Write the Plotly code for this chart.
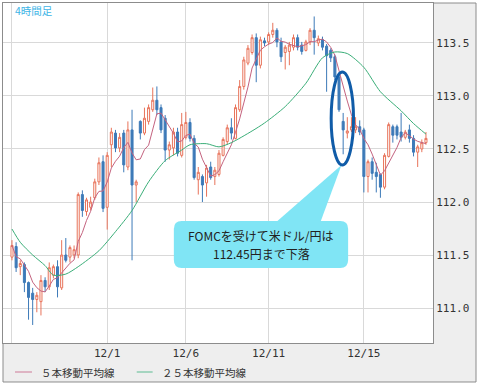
import plotly.graph_objects as go
import pandas as pd

# ---- data (USD/JPY 4-hour bars) ----
bar_idx = list(range(101))
opens = [111.48, 111.58, 111.39, 111.41, 111.24, 111.14, 111.08, 111.06, 111.26, 111.20,
         111.31, 111.39, 111.19, 111.50, 111.48, 111.50, 111.50, 112.07, 111.91, 111.95,
         112.04, 112.19, 112.38, 111.95, 112.54, 112.65, 112.51, 112.65, 112.33, 112.68,
         112.16, 112.76, 112.65, 112.76, 112.87, 112.96, 112.89, 112.79, 112.49, 112.51,
         112.66, 112.44, 112.61, 112.75, 112.60, 112.21, 112.24, 112.18, 112.33, 112.24,
         112.26, 112.44, 112.57, 112.70, 112.60, 112.87, 113.09, 113.31, 113.41, 113.55,
         113.29, 113.52, 113.51, 113.58, 113.62, 113.51, 113.41, 113.42, 113.46, 113.55,
         113.48, 113.43, 113.51, 113.62, 113.50, 113.53, 113.47, 113.43, 113.37, 113.18,
         112.76, 112.65, 112.68, 112.68, 112.71, 112.68, 112.24, 112.38, 112.28, 112.26,
         112.14, 112.43, 112.71, 112.71, 112.66, 112.61, 112.68, 112.60, 112.47, 112.50,
         112.56]
highs = [111.64, 111.62, 111.45, 111.43, 111.25, 111.19, 111.15, 111.31, 111.29, 111.43,
         111.41, 111.45, 111.64, 111.66, 111.59, 111.59, 112.09, 112.11, 112.04, 112.05,
         112.22, 112.42, 112.44, 112.47, 112.70, 112.68, 112.65, 112.68, 112.76, 112.87,
         112.21, 112.77, 112.89, 112.92, 113.08, 113.09, 112.92, 112.82, 112.57, 112.70,
         112.70, 112.84, 112.85, 112.79, 112.63, 112.33, 112.26, 112.35, 112.38, 112.33,
         112.49, 112.61, 112.73, 112.79, 112.92, 113.15, 113.37, 113.48, 113.58, 113.59,
         113.56, 113.55, 113.60, 113.69, 113.64, 113.55, 113.48, 113.51, 113.58, 113.58,
         113.51, 113.53, 113.64, 113.75, 113.57, 113.56, 113.49, 113.45, 113.39, 113.20,
         112.84, 112.80, 112.80, 112.80, 112.77, 112.70, 112.40, 112.42, 112.37, 112.27,
         112.46, 112.75, 112.73, 112.73, 112.84, 112.68, 112.73, 112.63, 112.54, 112.59,
         112.66]
lows = [111.45, 111.34, 111.31, 111.15, 110.89, 110.84, 110.96, 110.93, 111.15, 111.17,
        111.28, 111.10, 111.17, 111.43, 111.43, 111.47, 111.47, 111.86, 111.87, 111.92,
        112.02, 112.16, 111.905, 111.74, 112.33, 112.47, 112.47, 112.28, 112.30, 111.45,
        112.00, 112.59, 112.63, 112.73, 112.85, 112.82, 112.65, 112.38, 112.40, 112.44,
        112.43, 112.42, 112.59, 112.57, 112.21, 112.07, 112.00, 112.05, 112.21, 112.16,
        112.24, 112.43, 112.54, 112.59, 112.59, 112.85, 113.06, 113.29, 113.39, 113.13,
        113.26, 113.47, 113.48, 113.55, 113.46, 113.32, 113.25, 113.29, 113.43, 113.43,
        113.39, 113.42, 113.48, 113.39, 113.47, 113.43, 113.04, 113.32, 113.15, 112.85,
        112.45, 112.60, 112.66, 112.65, 112.63, 112.09, 112.09, 112.21, 112.09, 112.04,
        112.12, 112.42, 112.56, 112.59, 112.57, 112.59, 112.56, 112.43, 112.33, 112.47,
        112.54]
closes = [111.59, 111.38, 111.42, 111.24, 111.10, 111.08, 111.12, 111.26, 111.20, 111.38,
          111.39, 111.20, 111.50, 111.45, 111.57, 111.55, 112.07, 111.92, 112.02, 112.00,
          112.19, 112.37, 111.94, 112.44, 112.66, 112.51, 112.61, 112.35, 112.68, 112.16,
          112.19, 112.65, 112.79, 112.89, 112.96, 112.87, 112.68, 112.49, 112.54, 112.66,
          112.46, 112.73, 112.75, 112.60, 112.23, 112.28, 112.16, 112.32, 112.23, 112.30,
          112.46, 112.59, 112.70, 112.65, 112.89, 113.09, 113.34, 113.45, 113.55, 113.29,
          113.53, 113.50, 113.58, 113.62, 113.51, 113.37, 113.46, 113.48, 113.55, 113.46,
          113.42, 113.51, 113.62, 113.55, 113.54, 113.46, 113.38, 113.36, 113.18, 112.87,
          112.68, 112.67, 112.71, 112.71, 112.66, 112.24, 112.38, 112.27, 112.24, 112.14,
          112.44, 112.73, 112.63, 112.63, 112.61, 112.66, 112.60, 112.47, 112.52, 112.56,
          112.60]

# 25-bar moving average at these bars
ma25_idx = [0, 2, 5, 8, 10, 13, 16, 21, 25, 29, 33, 37, 41, 43, 47, 50, 53, 58, 61, 66,
            71, 75, 78, 81, 85, 89, 94, 97, 100]
ma25_val = [111.745, 111.62, 111.50, 111.40, 111.31, 111.32, 111.39, 111.54, 111.72, 111.92,
            112.19, 112.39, 112.49, 112.54, 112.55, 112.52, 112.56, 112.67, 112.745, 112.90,
            113.12, 113.36, 113.415, 113.40, 113.27, 113.04, 112.86, 112.74, 112.64]

# 5-bar moving average of the closes
ma5 = pd.Series(closes).rolling(5, min_periods=1).mean().tolist()

x_tick_vals = [0, 23, 42, 62, 85]
x_tick_text = ["", "12/1", "12/6", "12/11", "12/15"]
y_tick_vals = [111.0, 111.5, 112.0, 112.5, 113.0, 113.5]
y_tick_text = ["111.0", "111.5", "112.0", "112.5", "113.0", "113.5"]

legend_names = ["５本移動平均線", "２５本移動平均線"]
callout_lines = ["FOMCを受けて米ドル/円は", "112.45円まで下落"]
ma5_color = "#c4637f"
ma25_color = "#3aae78"

fig = go.Figure()
fig.add_trace(go.Candlestick(
    x=bar_idx, open=opens, high=highs, low=lows, close=closes,
    increasing=dict(line=dict(color="#e8735a", width=1), fillcolor="#ffffff"),
    decreasing=dict(line=dict(color="#3d7ab8", width=1), fillcolor="#3d7ab8"),
    whiskerwidth=0, showlegend=False, hoverinfo="skip"))
fig.add_trace(go.Scatter(x=bar_idx, y=ma5, mode="lines",
                         line=dict(color=ma5_color, width=1), showlegend=False))
fig.add_trace(go.Scatter(x=ma25_idx, y=ma25_val, mode="lines",
                         line=dict(color=ma25_color, width=1, shape="spline", smoothing=0.7),
                         showlegend=False))

tick_font = dict(family="DejaVu Sans Mono", size=11, color="#333333")
fig.update_layout(
    width=477, height=385,
    margin=dict(l=3, r=44, t=3, b=42, pad=0),
    paper_bgcolor="#ffffff", plot_bgcolor="rgba(0,0,0,0)",
    xaxis=dict(range=[-2.17, 101.7], tickmode="array", tickvals=x_tick_vals, ticktext=x_tick_text,
               showgrid=True, gridcolor="#d9d9d9", gridwidth=1, zeroline=False,
               showline=True, linecolor="#8c8c8c", linewidth=1, mirror=True, ticks="",
               tickfont=tick_font, rangeslider=dict(visible=False), fixedrange=True),
    yaxis=dict(range=[110.67, 113.877], side="right", tickmode="array", tickvals=y_tick_vals,
               ticktext=y_tick_text, showgrid=True, gridcolor="#d9d9d9", gridwidth=1,
               zeroline=False, showline=True, linecolor="#8c8c8c", linewidth=1, mirror=True,
               ticks="", tickfont=tick_font, fixedrange=True),
)

shapes = []
# frame background (grey panel) and white plot area
shapes.append(dict(type="rect", xref="paper", yref="paper", x0=0, x1=1.1, y0=-0.1147, y1=1,
                   fillcolor="#eeeeee", line=dict(color="#8c8c8c", width=1), layer="below"))
shapes.append(dict(type="rect", xref="paper", yref="paper", x0=0, x1=1, y0=0, y1=1,
                   fillcolor="#ffffff", line=dict(width=0), layer="below"))
# callout bubble
x0, x1, y0, y1, rx, ry = 39.1, 81.2, 111.377, 111.821, 1.9, 0.075
bubble = (f"M {x0+rx},{y1} L {x1-rx},{y1} Q {x1},{y1} {x1},{y1-ry} L {x1},{y0+ry} "
          f"Q {x1},{y0} {x1-rx},{y0} L {x0+rx},{y0} Q {x0},{y0} {x0},{y0+ry} "
          f"L {x0},{y1-ry} Q {x0},{y1} {x0+rx},{y1} Z")
shapes.append(dict(type="path", xref="x", yref="y", path=bubble,
                   fillcolor="#80e5f5", line=dict(width=0), layer="above"))
shapes.append(dict(type="path", xref="x", yref="y",
                   path="M 63.5,111.80 L 79.6,112.35 L 74.4,111.80 Z",
                   fillcolor="#80e5f5", line=dict(width=0), layer="above"))
# ellipse highlighting the FOMC drop
shapes.append(dict(type="circle", xref="x", yref="y", x0=77.1, x1=82.5, y0=112.35, y1=113.226,
                   line=dict(color="#105ca8", width=3), layer="above"))
# legend samples
shapes.append(dict(type="line", xref="paper", yref="paper", x0=0.0279, x1=0.0674,
                   y0=-0.0853, y1=-0.0853, line=dict(color="#d8a0b4", width=1.5)))
shapes.append(dict(type="line", xref="paper", yref="paper", x0=0.311, x1=0.348,
                   y0=-0.0853, y1=-0.0853, line=dict(color="#8ccdb0", width=1.5)))
fig.update_layout(shapes=shapes)

cjk = "Noto Sans CJK JP"
fig.add_annotation(x=60.2, y=111.685, xref="x", yref="y", showarrow=False, yanchor="middle",
                   text=callout_lines[0], font=dict(family=cjk, size=12, color="#222222"))
fig.add_annotation(x=60.2, y=111.515, xref="x", yref="y", showarrow=False, yanchor="middle",
                   text=callout_lines[1], font=dict(family=cjk, size=12, color="#222222"))
fig.add_annotation(x=0.0233, y=0.9765, xref="paper", yref="paper", xanchor="left", yanchor="middle",
                   showarrow=False, text="4時間足", font=dict(family=cjk, size=10.5, color="#3db4e6"))
fig.add_annotation(x=0.084, y=-0.0853, xref="paper", yref="paper", xanchor="left", yanchor="middle",
                   showarrow=False, text=legend_names[0], font=dict(family=cjk, size=10.5, color="#333333"))
fig.add_annotation(x=0.366, y=-0.0853, xref="paper", yref="paper", xanchor="left", yanchor="middle",
                   showarrow=False, text=legend_names[1], font=dict(family=cjk, size=10.5, color="#333333"))

fig.write_html("out.html")
